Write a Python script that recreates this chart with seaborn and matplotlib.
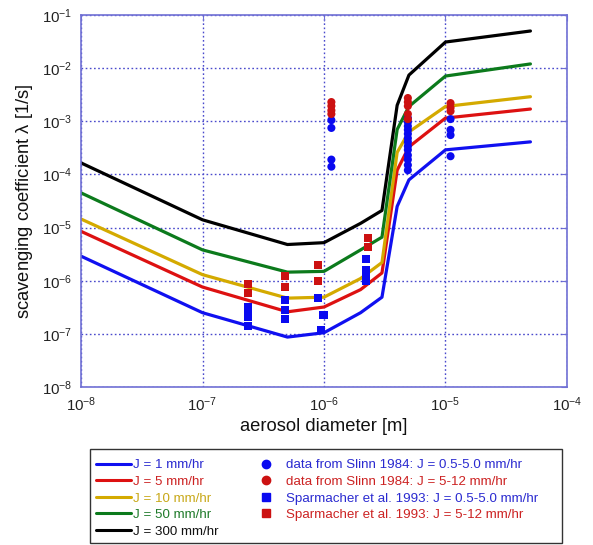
import numpy as np
import pandas as pd
import matplotlib
matplotlib.use("Agg")
import matplotlib.pyplot as plt
from matplotlib.lines import Line2D
from matplotlib.patches import Rectangle
import seaborn as sns

# ---------------- data ----------------
diameters = [1e-8, 1e-7, 5e-7, 1e-6, 2e-6, 3e-6, 4e-6, 5e-6, 1e-5, 5e-5]
rain_labels = ["J = 1 mm/hr", "J = 5 mm/hr", "J = 10 mm/hr", "J = 50 mm/hr", "J = 300 mm/hr"]
lam_J1 = [2.9e-6, 2.5e-7, 8.7e-8, 1.05e-7, 2.5e-7, 4.9e-7, 2.5e-5, 7.9e-5, 2.9e-4, 4.1e-4]
lam_J5 = [8.5e-6, 7.6e-7, 2.6e-7, 3.2e-7, 6.8e-7, 1.4e-6, 1.2e-4, 3.3e-4, 1.15e-3, 1.7e-3]
lam_J10 = [1.45e-5, 1.3e-6, 4.7e-7, 4.9e-7, 1.1e-6, 2.2e-6, 2.6e-4, 6.3e-4, 1.9e-3, 2.9e-3]
lam_J50 = [4.5e-5, 3.8e-6, 1.45e-6, 1.5e-6, 3.8e-6, 6.6e-6, 7.0e-4, 1.9e-3, 7.1e-3, 1.2e-2]
lam_J300 = [1.65e-4, 1.4e-5, 4.8e-6, 5.2e-6, 1.2e-5, 2.1e-5, 2.0e-3, 7.4e-3, 3.1e-2, 5.0e-2]

# Slinn 1984 (circles)
slinn_low_x = [1.15e-6] * 4 + [4.9e-6] * 13 + [1.1e-5] * 4
slinn_low_y = [1.05e-3, 7.5e-4, 1.9e-4, 1.4e-4,
               1.15e-3, 9.7e-4, 8.1e-4, 6.9e-4, 5.8e-4, 4.8e-4, 4.1e-4,
               3.4e-4, 2.9e-4, 2.3e-4, 1.9e-4, 1.5e-4, 1.2e-4,
               1.1e-3, 6.9e-4, 5.5e-4, 2.2e-4]
slinn_high_x = [1.15e-6] * 4 + [4.9e-6] * 5 + [1.1e-5] * 3
slinn_high_y = [2.3e-3, 1.94e-3, 1.6e-3, 1.37e-3,
                2.74e-3, 2.3e-3, 1.94e-3, 1.37e-3, 1.1e-3,
                2.2e-3, 1.8e-3, 1.55e-3]

# Sparmacher et al. 1993 (squares)
spar_low_x = [2.35e-7] * 5 + [4.8e-7] * 3 + [8.9e-7, 9.9e-7, 9.4e-7] + [2.2e-6] * 4
spar_low_y = [3.2e-7, 2.8e-7, 2.4e-7, 2.1e-7, 1.4e-7,
              4.4e-7, 2.8e-7, 1.9e-7,
              4.7e-7, 2.3e-7, 1.2e-7,
              2.6e-6, 1.6e-6, 1.3e-6, 1.0e-6]
spar_high_x = [2.35e-7] * 2 + [4.8e-7] * 2 + [8.9e-7] * 2 + [2.3e-6] * 2
spar_high_y = [8.7e-7, 5.9e-7, 1.23e-6, 7.6e-7, 2.0e-6, 1.0e-6, 6.3e-6, 4.3e-6]

marker_labels = ["data from Slinn 1984: J = 0.5-5.0 mm/hr",
                 "data from Slinn 1984: J = 5-12 mm/hr",
                 "Sparmacher et al. 1993: J = 0.5-5.0 mm/hr",
                 "Sparmacher et al. 1993: J = 5-12 mm/hr"]

# ---------------- style ----------------
sns.set_style("white")
plt.rcParams["font.family"] = ["Liberation Sans", "DejaVu Sans"]
plt.rcParams["mathtext.fontset"] = "custom"
plt.rcParams["mathtext.rm"] = "Liberation Sans"
plt.rcParams["mathtext.it"] = "Liberation Sans:italic"
plt.rcParams["mathtext.default"] = "regular"

line_colors = ["#1010f0", "#dd1111", "#d4aa00", "#0c7a1c", "#000000"]
blue_mk = "#0a0af0"
red_mk = "#cc1111"
axis_color = "#7070d4"

lines_df = pd.DataFrame({
    "diameter": diameters * 5,
    "lam": lam_J1 + lam_J5 + lam_J10 + lam_J50 + lam_J300,
    "rain": sum([[lab] * len(diameters) for lab in rain_labels], []),
})

fig = plt.figure(figsize=(5.93, 5.45), dpi=100)
ax = fig.add_axes([81 / 593, 158 / 545, 486 / 593, 372 / 545])

sns.lineplot(data=lines_df, x="diameter", y="lam", hue="rain",
             hue_order=rain_labels, palette=line_colors, linewidth=2.3,
             legend=False, ax=ax, estimator=None, sort=False)

sq = 34
sns.scatterplot(x=slinn_low_x, y=slinn_low_y, color=blue_mk, marker="o", s=sq,
                edgecolor="none", ax=ax, zorder=5)
sns.scatterplot(x=slinn_high_x, y=slinn_high_y, color=red_mk, marker="o", s=sq,
                edgecolor="none", ax=ax, zorder=5)
sns.scatterplot(x=spar_low_x, y=spar_low_y, color=blue_mk, marker="s", s=sq,
                edgecolor="none", ax=ax, zorder=5)
sns.scatterplot(x=spar_high_x, y=spar_high_y, color=red_mk, marker="s", s=sq,
                edgecolor="none", ax=ax, zorder=5)

ax.set_xscale("log")
ax.set_yscale("log")
ax.set_xlim(1e-8, 1e-4)
ax.set_ylim(1e-8, 1e-1)
ax.set_xticks([1e-8, 1e-7, 1e-6, 1e-5, 1e-4])
ax.set_yticks([1e-8, 1e-7, 1e-6, 1e-5, 1e-4, 1e-3, 1e-2, 1e-1])
ax.minorticks_off()

ax.grid(True, which="major", linestyle=(0, (1.2, 1.8)), color="#4a4acc", linewidth=1.0)
for sp in ax.spines.values():
    sp.set_color(axis_color)
    sp.set_linewidth(1.2)
ax.tick_params(which="major", direction="in", length=4, color=axis_color,
               top=True, right=True, labelsize=10.8, labelcolor="#222222", pad=6)

ax.set_xlabel("aerosol diameter [m]", fontsize=13.2, color="#111111", labelpad=3)
ax.set_ylabel(r"scavenging coefficient $\lambda$ [1/s]", fontsize=13.2,
              color="#111111", labelpad=5)

# ---------------- legend ----------------
handles = [Line2D([], [], color=c, lw=2.2) for c in line_colors]
handles += [
    Line2D([], [], color=blue_mk, marker="o", linestyle="none", markersize=6),
    Line2D([], [], color=red_mk, marker="o", linestyle="none", markersize=6),
    Line2D([], [], color=blue_mk, marker="s", linestyle="none", markersize=6),
    Line2D([], [], color=red_mk, marker="s", linestyle="none", markersize=6),
]
labels = rain_labels + marker_labels
text_colors = ["#2a2ad0", "#cc2222", "#c8a818", "#1f7a2a", "#111111",
               "#2a2ad0", "#cc2222", "#2a2ad0", "#cc2222"]

leg = fig.legend(handles, labels, ncol=2, frameon=False, fontsize=9.6,
                 loc="upper left", bbox_to_anchor=(96 / 593, 1 - 459 / 545),
                 borderpad=0, borderaxespad=0, handlelength=2.6,
                 handletextpad=0.15, columnspacing=2.3, labelspacing=0.32)
for t, c in zip(leg.get_texts(), text_colors):
    t.set_color(c)

fig.patches.append(Rectangle((90 / 593, 2 / 545), 472 / 593, 94 / 545,
                             transform=fig.transFigure, fill=False,
                             edgecolor="#333333", linewidth=1.0))

fig.savefig("out.png", dpi=100)
